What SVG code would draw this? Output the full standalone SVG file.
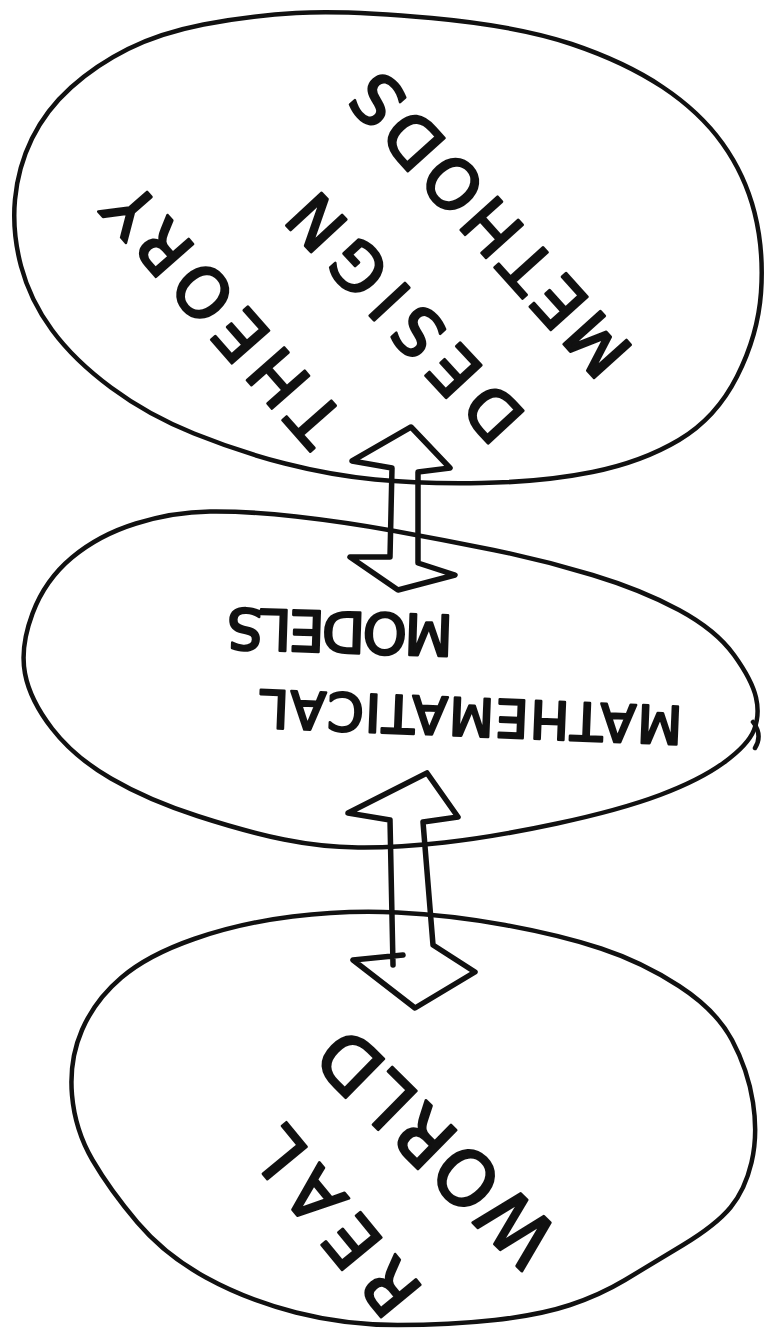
<svg xmlns="http://www.w3.org/2000/svg" width="770" height="1342" viewBox="0 0 770 1342">
<style>
.shape{fill:none;stroke:#111;stroke-width:4.5;stroke-linejoin:round;stroke-linecap:round}
.arrow{fill:none;stroke:#111;stroke-width:5.5;stroke-linejoin:round;stroke-linecap:round}
.lbl{font-family:"DejaVu Sans","Liberation Sans",sans-serif;font-weight:normal;fill:#111;stroke:#111;stroke-width:2.6;stroke-linejoin:round;text-anchor:middle}
</style>
<rect width="770" height="1342" fill="#fff"/>
<g id="node-theory">
<path class="shape" d="M 431.5,18 Q 518,26 571.5,44 Q 625,62 662.5,87 Q 700,112 722.5,143.5 Q 745,175 754.5,212.5 Q 764,250 761,292.5 Q 758,335 737,376.5 Q 716,418 679,440 Q 642,462 592.5,472 Q 543,482 481.5,483 Q 420,484 375,479.5 Q 330,475 285,463.5 Q 240,452 194,433.5 Q 148,415 111,387.5 Q 74,360 52,330 Q 30,300 21,266 Q 12,232 15,199.5 Q 18,167 32,138.5 Q 46,110 71,87.5 Q 96,65 128,49 Q 160,33 203.5,24.5 Q 247,16 296,13 Q 345,10 431.5,18 Z"/>
<text class="lbl" font-size="68" transform="translate(223,315) rotate(228.6)" dy="0.36em" textLength="320" lengthAdjust="spacing">THEORY</text>
<text class="lbl" font-size="66" transform="translate(405,318) rotate(227.2)" dy="0.36em" textLength="310" lengthAdjust="spacing">DESIGN</text>
<text class="lbl" font-size="68" transform="translate(490,225) rotate(228)" dy="0.36em" textLength="380" lengthAdjust="spacing">METHODS</text>
</g>
<g id="node-models">
<path class="shape" d="M 210,511.5 Q 247,511 296,516.5 Q 345,522 394.5,531 Q 444,540 493.5,550 Q 543,560 592.5,575 Q 642,590 679,610 Q 716,630 734,655 Q 752,680 756,697.5 Q 760,715 754,730 Q 748,745 724,762.5 Q 700,780 660,795 Q 620,810 557,823.5 Q 494,837 444.5,842.5 Q 395,848 358,847.5 Q 321,847 284,839.5 Q 247,832 197.5,816 Q 148,800 111,778.5 Q 74,757 52,728.5 Q 30,700 25,673.5 Q 20,647 32.5,613.5 Q 45,580 72,557.5 Q 99,535 136,523.5 Q 173,512 210,511.5 Z"/>
<path class="shape" d="M 753,722 Q 763,735 755,748"/>
<text class="lbl" font-size="52" transform="translate(471,717) rotate(182.3)" dy="0.36em" textLength="423" lengthAdjust="spacing">MATHEMATICAL</text>
<text class="lbl" font-size="56" transform="translate(340,632) rotate(181.8)" dy="0.36em" textLength="226" lengthAdjust="spacing">MODELS</text>
</g>
<g id="node-world">
<path class="shape" d="M 397.5,912.5 Q 450,915 505,925 Q 560,935 601,948.5 Q 642,962 679,986 Q 716,1010 732,1040 Q 748,1070 753,1102.5 Q 758,1135 751.5,1162.5 Q 745,1190 730.5,1207.5 Q 716,1225 683,1245 Q 650,1265 625,1280 Q 600,1295 570,1305 Q 540,1315 495,1320 Q 450,1325 397.5,1325 Q 345,1325 296,1312.5 Q 247,1300 206,1277.5 Q 165,1255 137.5,1222.5 Q 110,1190 92.5,1160 Q 75,1130 72,1095 Q 69,1060 82,1030 Q 95,1000 121.5,977.5 Q 148,955 194,939 Q 240,923 292.5,916.5 Q 345,910 397.5,912.5 Z"/>
<text class="lbl" font-size="70" transform="translate(336,1222) rotate(230.5)" dy="0.36em" textLength="218" lengthAdjust="spacing">REAL</text>
<text class="lbl" font-size="75" transform="translate(436,1148) rotate(224.5)" dy="0.36em" textLength="300" lengthAdjust="spacing">WORLD</text>
</g>
<g id="connectors">
<path class="arrow" d="M 411,427 L 450,468 L 418,472 L 418,563 L 455,575 L 398,590 L 350,557 L 390,557 L 392,468 L 352,461 Z"/>
<path class="arrow" d="M 427,773 L 458,817 L 423,822 L 433,945 L 475,972 L 415,1008 L 353,960 L 403,955 M 390,820 L 393,965 M 390,820 L 348,813 L 427,773"/>
</g>
</svg>
